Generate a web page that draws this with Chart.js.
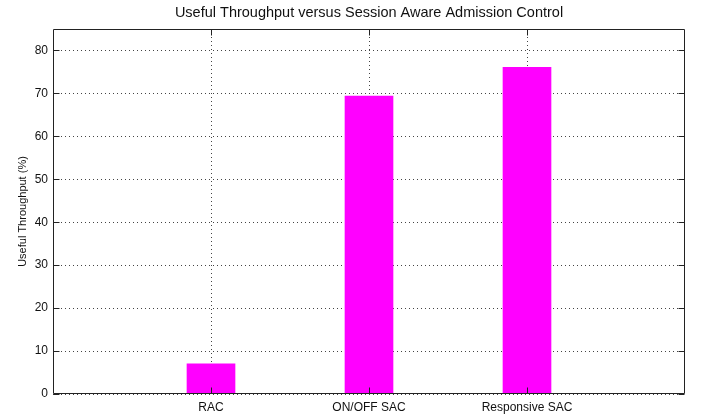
<!DOCTYPE html>
<html><head><meta charset="utf-8">
<script src="https://cdn.jsdelivr.net/npm/chart.js@4/dist/chart.umd.min.js"></script>
<style>html,body{margin:0;padding:0;background:#fff}#wrap{width:701px;height:419px}</style>
</head><body><div id="wrap"><canvas id="c" width="701" height="419"></canvas></div>
<script>
const categories = ['RAC', 'ON/OFF SAC', 'Responsive SAC'];
const throughput = [7.0, 69.4, 76.1];
const yTicks = [0, 10, 20, 30, 40, 50, 60, 70, 80];
const titleText = 'Useful Throughput versus Session Aware Admission Control';
const yLabel = 'Useful Throughput (%)';

const points = categories.map((c, i) => ({x: i + 1, y: throughput[i]}));
const FONT = '"Liberation Sans", Arial, sans-serif';

const frame = {
  id: 'frame',
  afterDraw(chart) {
    const {ctx, chartArea: a, scales} = chart;
    ctx.save();
    ctx.strokeStyle = '#222';
    ctx.lineWidth = 1;
    ctx.setLineDash([]);
    ctx.beginPath();
    const L = Math.round(a.left) + 0.5, R = Math.round(a.right) - 0.5;
    const T = Math.round(a.top) + 0.5, B = Math.round(a.bottom) - 0.5;
    ctx.rect(L, T, R - L, B - T);
    yTicks.forEach(v => {
      const y = Math.round(scales.y.getPixelForValue(v)) + 0.5;
      ctx.moveTo(L, y); ctx.lineTo(L + 6, y);
      ctx.moveTo(R, y); ctx.lineTo(R - 6, y);
    });
    categories.forEach((c, i) => {
      const x = Math.round(scales.x.getPixelForValue(i + 1)) + 0.5;
      ctx.moveTo(x, B); ctx.lineTo(x, B - 6);
      ctx.moveTo(x, T); ctx.lineTo(x, T + 6);
    });
    ctx.stroke();
    ctx.restore();
  }
};

new Chart(document.getElementById('c'), {
  type: 'bar',
  data: {
    datasets: [{
      data: points,
      backgroundColor: '#ff00ff',
      borderWidth: 0,
      barThickness: 48
    }]
  },
  options: {
    responsive: false,
    animation: false,
    devicePixelRatio: 1,
    layout: {padding: {left: 12, right: 16, top: 0, bottom: 0}},
    plugins: {
      legend: {display: false},
      tooltip: {enabled: false},
      title: {
        display: true, text: titleText, color: '#111', fullSize: false,
        font: {family: FONT, size: 14.5, weight: 'normal', lineHeight: 1.2},
        padding: {top: 4, bottom: 7.6}
      }
    },
    scales: {
      x: {
        type: 'linear', min: 0, max: 4, offset: false,
        afterBuildTicks: s => { s.ticks = categories.map((c, i) => ({value: i + 1})); },
        afterFit: s => { s.height = 25; },
        ticks: {
          color: '#111', padding: 6, maxRotation: 0, autoSkip: false,
          font: {family: FONT, size: 12},
          callback: v => categories[v - 1] || ''
        },
        grid: {color: '#444', lineWidth: 1, drawTicks: false, offset: false},
        border: {display: false, dash: [1, 3]}
      },
      y: {
        min: 0, max: 85,
        afterBuildTicks: s => { s.ticks = yTicks.map(v => ({value: v})); },
        afterFit: s => { s.width = 41; },
        ticks: {color: '#111', padding: 5, font: {family: FONT, size: 12}},
        grid: {color: '#444', lineWidth: 1, drawTicks: false},
        border: {display: false, dash: [1, 3]},
        title: {
          display: true, text: yLabel, color: '#111',
          font: {family: FONT, size: 11}, padding: {top: 4, bottom: 0}
        }
      }
    }
  },
  plugins: [frame]
});
</script></body></html>
